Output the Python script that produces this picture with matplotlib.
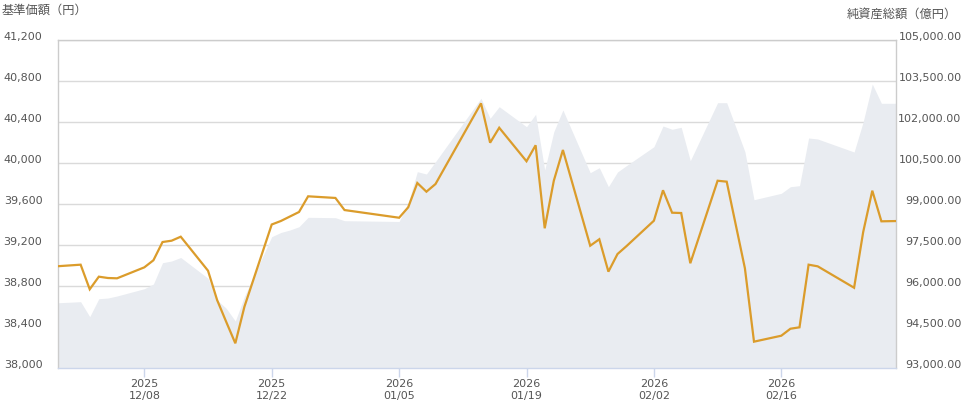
import matplotlib
matplotlib.use("Agg")
import matplotlib.pyplot as plt
import matplotlib.dates as mdates
import matplotlib.ticker as mticker
import matplotlib.transforms as mtransforms
import datetime as dt

# ======================================================
# DATA
# ======================================================
dates = [
    "2025-11-28", "2025-12-01", "2025-12-02", "2025-12-03", "2025-12-04", "2025-12-05",
    "2025-12-08", "2025-12-09", "2025-12-10", "2025-12-11", "2025-12-12",
    "2025-12-15", "2025-12-16", "2025-12-17", "2025-12-18", "2025-12-19",
    "2025-12-22", "2025-12-23", "2025-12-24", "2025-12-25", "2025-12-26",
    "2025-12-29", "2025-12-30",
    "2026-01-05", "2026-01-06", "2026-01-07", "2026-01-08", "2026-01-09",
    "2026-01-13", "2026-01-14", "2026-01-15", "2026-01-16",
    "2026-01-19", "2026-01-20", "2026-01-21", "2026-01-22", "2026-01-23",
    "2026-01-26", "2026-01-27", "2026-01-28", "2026-01-29", "2026-01-30",
    "2026-02-02", "2026-02-03", "2026-02-04", "2026-02-05", "2026-02-06",
    "2026-02-09", "2026-02-10", "2026-02-12", "2026-02-13",
    "2026-02-16", "2026-02-17", "2026-02-18", "2026-02-19", "2026-02-20",
    "2026-02-24", "2026-02-25", "2026-02-26", "2026-02-27", "2026-03-02",
]

# 基準価額（円）
nav = [
    38990, 39008, 38768, 38891, 38878, 38875,
    38982, 39051, 39229, 39242, 39281,
    38949, 38663, 38450, 38241, 38598,
    39400, 39434, 39478, 39522, 39675,
    39659, 39541,
    39466, 39568, 39805, 39720, 39795,
    40425, 40582, 40198, 40344,
    40017, 40173, 39363, 39827, 40127,
    39193, 39256, 38940, 39112, 39190,
    39437, 39734, 39515, 39512, 39022,
    39827, 39818, 38973, 38257,
    38315, 38383, 38397, 39008, 38992,
    38783, 39327, 39730, 39431, 39436,
]

# 純資産総額（億円）
aum = [
    95378, 95426, 94877, 95535, 95560, 95634,
    95901, 96073, 96852, 96915, 97043,
    96282, 95488, 95184, 94719, 95616,
    97804, 97957, 98049, 98169, 98513,
    98499, 98389,
    98360, 99037, 100182, 100097, 100548,
    102402, 102867, 102135, 102560,
    101828, 102282, 100244, 101645, 102439,
    100145, 100328, 99633, 100171, 100408,
    101096, 101854, 101733, 101806, 100584,
    102706, 102706, 100913, 99157,
    99391, 99633, 99670, 101415, 101378,
    100902, 102011, 103390, 102684, 102684,
]

x_ticks = ["2025-12-08", "2025-12-22", "2026-01-05", "2026-01-19", "2026-02-02", "2026-02-16"]
left_ticks = [38000, 38400, 38800, 39200, 39600, 40000, 40400, 40800, 41200]
right_ticks = [93000, 94500, 96000, 97500, 99000, 100500, 102000, 103500, 105000]

left_title = "基準価額（円）"
right_title = "純資産総額（億円）"

# ======================================================
# STYLE
# ======================================================
plt.rcParams["font.family"] = ["DejaVu Sans", "Noto Sans CJK JP"]
LINE_COLOR = "#DB9C2B"
AREA_COLOR = "#E9ECF1"
GRID_COLOR = "#DADADA"
TEXT_COLOR = "#555555"
BORDER = "#CCCCCC"
AXIS_BLUE = "#CCD6EB"

x = [mdates.date2num(dt.datetime.strptime(d, "%Y-%m-%d")) for d in dates]
xt = [mdates.date2num(dt.datetime.strptime(d, "%Y-%m-%d")) for d in x_ticks]
x0 = xt[0]

fig = plt.figure(figsize=(9.67, 4.08), dpi=100)
ax = fig.add_axes([57.7 / 967, 1 - 368 / 408, (895.5 - 57.7) / 967, 328 / 408])
ax2 = ax.twinx()

# area on the right axis, drawn beneath the line axis
ax.set_zorder(ax2.get_zorder() + 1)
ax.patch.set_visible(False)
ax2.patch.set_facecolor("white")

ax2.fill_between(x, right_ticks[0], aum, color=AREA_COLOR, linewidth=0, zorder=1)
ax.plot(x, nav, color=LINE_COLOR, linewidth=1.6, solid_joinstyle="miter", zorder=3)

ax.set_xlim(x0 - 9.52, x0 + 82.55)
ax.set_ylim(left_ticks[0], left_ticks[-1])
ax2.set_ylim(right_ticks[0], right_ticks[-1])

# gridlines on the right axis so the area covers them
ax2.set_axisbelow(True)
ax2.yaxis.set_major_locator(mticker.FixedLocator(right_ticks))
ax2.grid(axis="y", color=GRID_COLOR, linewidth=1.0)
ax.grid(False)

ax.xaxis.set_major_locator(mticker.FixedLocator(xt))
ax.xaxis.set_major_formatter(mdates.DateFormatter("%Y\n%m/%d"))
ax.tick_params(axis="x", length=6.5, width=1, color=AXIS_BLUE, pad=1.5,
               labelsize=8, labelcolor=TEXT_COLOR)
for lab in ax.get_xticklabels():
    lab.set_linespacing(1.25)

ax.yaxis.set_major_locator(mticker.FixedLocator(left_ticks))
ax.yaxis.set_major_formatter(mticker.FuncFormatter(lambda v, p: f"{v:,.0f}"))
ax.tick_params(axis="y", length=0, pad=11, labelsize=8, labelcolor=TEXT_COLOR)

ax2.yaxis.set_major_formatter(mticker.FuncFormatter(lambda v, p: f"{v:,.2f}"))
ax2.tick_params(axis="y", length=0, pad=47.5, labelsize=8, labelcolor=TEXT_COLOR)
for lab in ax2.get_yticklabels():
    lab.set_horizontalalignment("right")

# y labels sit a little above their gridlines
up = mtransforms.ScaledTranslation(0, 3 / 72, fig.dpi_scale_trans)
for lab in ax.get_yticklabels() + ax2.get_yticklabels():
    lab.set_transform(lab.get_transform() + up)

for side in ["left", "top", "right"]:
    ax.spines[side].set_color(BORDER)
    ax.spines[side].set_linewidth(1)
ax.spines["bottom"].set_color(AXIS_BLUE)
ax.spines["bottom"].set_linewidth(1)
for s in ax2.spines.values():
    s.set_visible(False)

fig.text(1.5 / 967, 1 - 10.5 / 408, left_title, ha="left", va="center",
         fontsize=8.8, color=TEXT_COLOR, family=["Noto Sans CJK JP", "DejaVu Sans"])
fig.text(957 / 967, 1 - 14.5 / 408, right_title, ha="right", va="center",
         fontsize=8.8, color=TEXT_COLOR, family=["Noto Sans CJK JP", "DejaVu Sans"])

fig.savefig("out.png", dpi=100)
